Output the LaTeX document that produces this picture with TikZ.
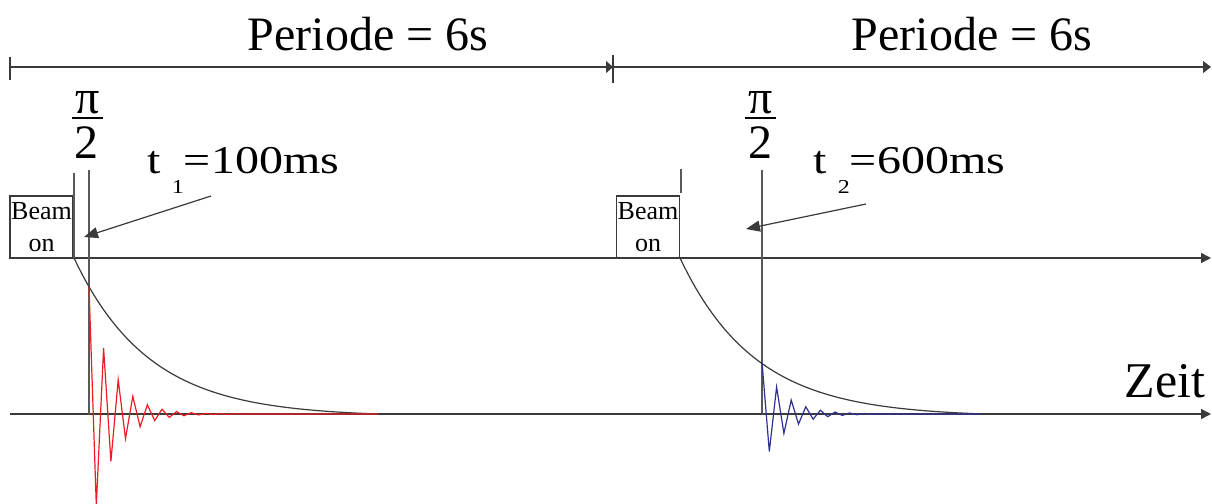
\documentclass[tikz,border=0pt]{standalone}
\usepackage{fontspec}
\setmainfont{Liberation Serif}
\usetikzlibrary{arrows.meta}
\definecolor{cLine}{HTML}{3A3A3A}
\definecolor{cRed}{HTML}{ED1C24}
\definecolor{cBlue}{HTML}{2E3192}

\begin{document}
\begin{tikzpicture}[x=0.5pt,y=-0.5pt,line width=0.6pt,
  big/.style={font=\fontsize{24}{28}\selectfont,inner sep=0pt},
  beambox/.style={draw=cLine,minimum width=31.5pt,minimum height=31pt,inner sep=0pt,
    align=center,font=\fontsize{13}{16}\selectfont},
  axis/.style={cLine,line width=0.7pt,-{Triangle[length=5pt,width=5pt]}},
  pulse/.style={gray!70!black,line width=0.6pt}]
  \useasboundingbox (0,0) rectangle (1212,504);
  % period bars
  \coordinate (p0) at (10,67);
  \coordinate (p1) at (613,67);
  \coordinate (p2) at (1211,67);
  \draw[cLine] (10,57) -- (10,80);
  \draw[cLine] (613,55) -- (613,83);
  \draw[cLine,-{Triangle[length=3.5pt,width=6pt]}] (p0) -- (p1);
  \draw[cLine,-{Triangle[length=4pt,width=6pt]}] (p1) -- (p2);
  \node[big,anchor=base] (per1) at (368,50) {Periode = 6s};
  \node[big,anchor=base] (per2) at (972,50) {Periode = 6s};
  % time axes
  \coordinate (a0) at (10,258);  \coordinate (a1) at (1211,258);
  \coordinate (b0) at (10,414);  \coordinate (b1) at (1211,414);
  \draw[axis] (a0) -- (a1);
  \draw[axis] (b0) -- (b1);
  \node[font=\fontsize{25}{28}\selectfont,inner sep=0pt,anchor=base] (zeit) at (1165,397) {Zeit};
  % beam on boxes, pi/2 pulses
  \node[beambox] (beamA) at (41.5,227) {Beam\\on};
  \node[beambox] (beamB) at (648,227) {Beam\\on};
  \draw[pulse] (74,173) -- (74,258);
  \draw[pulse] (681,169) -- (681,193);
  \draw[pulse] (89,170) -- (89,414);
  \draw[pulse] (762,170) -- (762,414);
  \foreach \n/\c in {A/88,B/761}{
    \node[big,anchor=base] (pi\n) at (\c,113) {π};
    \node[big,anchor=base] (two\n) at (\c-1,158) {2};
    \draw[line width=0.8pt] (\c-16,118) -- (\c+15,118);
  }
  % delay labels
  \node[big,anchor=base west] (tA) at (147,173)
    {\scalebox{1}[0.82]{t\hspace{5.5pt}\raisebox{-12.8pt}{\fontsize{12}{12}\selectfont 1}=100ms}};
  \node[big,anchor=base west] (tB) at (813,173)
    {\scalebox{1}[0.82]{t\hspace{5.5pt}\raisebox{-12.8pt}{\fontsize{12}{12}\selectfont 2}=600ms}};
  \coordinate (tAtail) at (211,196); \coordinate (tAtip) at (84,237);
  \coordinate (tBtail) at (866,204); \coordinate (tBtip) at (746,229);
  \draw[cLine,-{Triangle[length=7pt,width=5.5pt]}] (tAtail) -- (tAtip);
  \draw[cLine,-{Triangle[length=7pt,width=5.5pt]}] (tBtail) -- (tBtip);
  % recovery curves
  \foreach \s/\e in {74/378,680/984}
    \draw[cLine] plot[domain=\s:\e,samples=80] (\x,{414-156*(exp(-(\x-\s)/75)-0.0174)/0.9826});
  % FID signals
  \draw[cRed] plot[domain=0:36,samples=37] ({89+7.3*\x},{414-127*cos(180*\x)*0.72^\x}) -- (378,414);
  \draw[cBlue] plot[domain=0:30,samples=31] ({762+7.3*\x},{414-52*cos(180*\x)*0.72^\x}) -- (973,414);
\end{tikzpicture}
\end{document}
